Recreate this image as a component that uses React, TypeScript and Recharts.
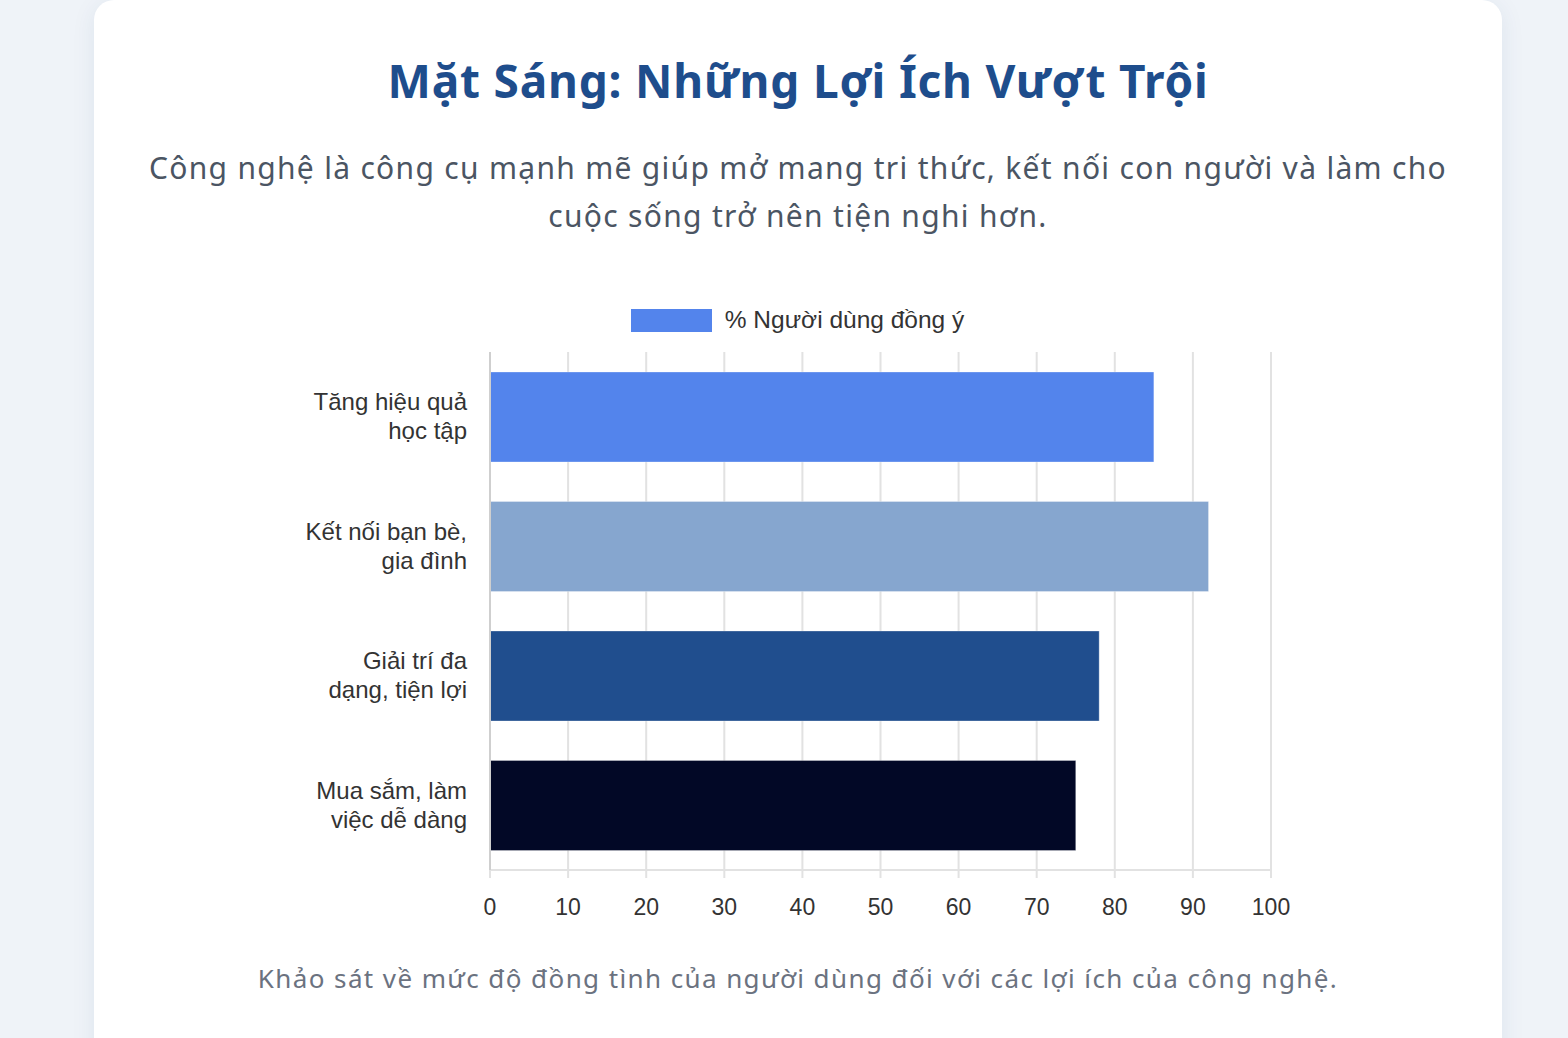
import React from "react";
import { BarChart, Bar, XAxis, YAxis, CartesianGrid, Legend, Cell } from "recharts";

const categories = [
  "Tăng hiệu quả học tập",
  "Kết nối bạn bè, gia đình",
  "Giải trí đa dạng, tiện lợi",
  "Mua sắm, làm việc dễ dàng",
];
const categoryLines = [
  ["Tăng hiệu quả", "học tập"],
  ["Kết nối bạn bè,", "gia đình"],
  ["Giải trí đa", "dạng, tiện lợi"],
  ["Mua sắm, làm", "việc dễ dàng"],
];
const agreeValues = [85, 92, 78, 75];
const barColors = ["#5384ec", "#86a6cf", "#204e8e", "#020826"];
const xTicks = [0, 10, 20, 30, 40, 50, 60, 70, 80, 90, 100];
const seriesName = "% Người dùng đồng ý";

const data = categories.map((name, i) => ({ name, value: agreeValues[i] }));

const chartFont = "'Liberation Sans', Arial, sans-serif";
const uiFont = "'Noto Sans', Inter, sans-serif";

const YTick = (props: any) => {
  const { x, y, index } = props;
  const lines = categoryLines[index] || [props.payload.value];
  return (
    <g transform={`translate(${x},${y})`}>
      {lines.map((line: string, i: number) => (
        <text
          key={i}
          x={0}
          y={(i - (lines.length - 1) / 2) * 29}
          dy={8}
          textAnchor="end"
          fontSize={24}
          fontFamily={chartFont}
          fill="#333"
        >
          {line}
        </text>
      ))}
    </g>
  );
};

// legend box is centred on the card, not the plot
const LegendContent = () => (
  <div
    style={{
      display: "flex",
      justifyContent: "center",
      alignItems: "center",
      fontFamily: chartFont,
      fontSize: 24.5,
      color: "#333",
      paddingTop: 6,
      paddingLeft: 44,
    }}
  >
    <span
      style={{
        display: "inline-block",
        width: 81,
        height: 23,
        background: barColors[0],
        marginRight: 13,
      }}
    />
    {seriesName}
  </div>
);

export default function App() {
  return (
    <div
      style={{
        position: "fixed",
        left: 0,
        top: 0,
        width: 1568,
        height: 1038,
        background: "#eff3f8",
        overflow: "hidden",
      }}
    >
      <div
        style={{
          position: "absolute",
          left: 94,
          top: 0,
          width: 1408,
          height: 1080,
          background: "#fff",
          borderRadius: 20,
          boxShadow: "0 4px 24px rgba(30,60,110,0.08)",
        }}
      />
      <div
        style={{
          position: "absolute",
          left: 94,
          top: 48,
          width: 1408,
          textAlign: "center",
          fontFamily: uiFont,
          fontWeight: 700,
          fontSize: 46,
          letterSpacing: 0.8,
          color: "#1e4d8c",
          lineHeight: "64px",
        }}
      >
        Mặt Sáng: Những Lợi Ích Vượt Trội
      </div>
      <div
        style={{
          position: "absolute",
          left: 94,
          top: 144,
          width: 1408,
          textAlign: "center",
          fontFamily: uiFont,
          fontSize: 30,
          letterSpacing: 1.3,
          color: "#4b5563",
          lineHeight: "48px",
        }}
      >
        Công nghệ là công cụ mạnh mẽ giúp mở mang tri thức, kết nối con người và làm cho
        <br />
        cuộc sống trở nên tiện nghi hơn.
      </div>
      <div style={{ position: "absolute", left: 280, top: 300 }}>
        <BarChart
          width={1040}
          height={640}
          data={data}
          layout="vertical"
          margin={{ top: 0, right: 49, left: 0, bottom: 0 }}
        >
          <Legend verticalAlign="top" height={52} content={<LegendContent />} />
          <CartesianGrid horizontal={false} stroke="#e2e2e2" strokeWidth={2} />
          <XAxis
            type="number"
            domain={[0, 100]}
            ticks={xTicks}
            interval={0}
            tickSize={8}
            axisLine={{ stroke: "#e2e2e2", strokeWidth: 2 }}
            tickLine={{ stroke: "#e2e2e2", strokeWidth: 2 }}
            tick={{ fill: "#333", fontSize: 23, fontFamily: chartFont, dy: 19 }}
            height={70}
          />
          <YAxis
            type="category"
            dataKey="name"
            width={210}
            axisLine={{ stroke: "#cfcfcf", strokeWidth: 2 }}
            tickLine={false}
            tickMargin={17}
            tick={<YTick />}
          />
          <Bar dataKey="value" name={seriesName} barSize={90} isAnimationActive={false}>
            {data.map((_, i) => (
              <Cell key={i} fill={barColors[i]} stroke="rgba(255,255,255,0.3)" strokeWidth={1} />
            ))}
          </Bar>
        </BarChart>
      </div>
      <div
        style={{
          position: "absolute",
          left: 94,
          top: 960,
          width: 1408,
          textAlign: "center",
          fontFamily: uiFont,
          fontSize: 26,
          letterSpacing: 1.4,
          color: "#6b7280",
        }}
      >
        Khảo sát về mức độ đồng tình của người dùng đối với các lợi ích của công nghệ.
      </div>
    </div>
  );
}
